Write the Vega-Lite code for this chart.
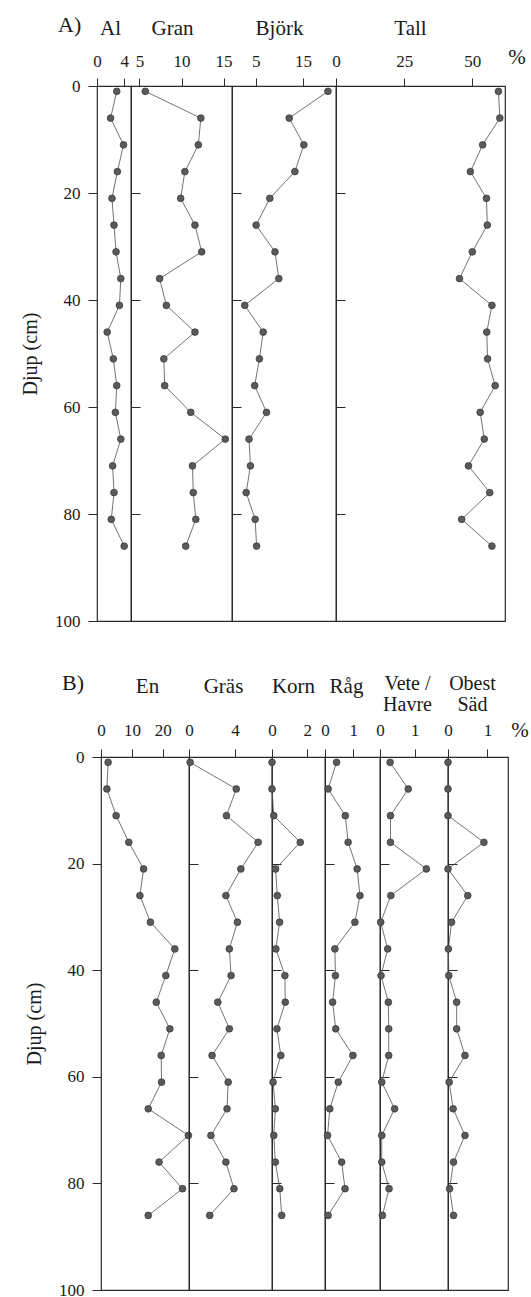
{
  "$schema": "https://vega.github.io/schema/vega-lite/v6.json",
  "padding": {"left": 19, "top": 13, "right": 5, "bottom": 5},
  "background": "white",
  "config": {
    "font": "Liberation Serif",
    "view": {"stroke": "#2a2a2a", "strokeWidth": 1.2},
    "axis": {"labelFont": "Liberation Serif", "titleFont": "Liberation Serif", "labelFontSize": 17, "titleFontSize": 21, "titleFontWeight": "normal", "labelColor": "#1a1a1a", "titleColor": "#1a1a1a", "tickColor": "#2a2a2a", "tickWidth": 1, "grid": false, "domain": false, "labelFlush": false, "labelOverlap": false, "labelBound": false},
    "title": {"font": "Liberation Serif", "fontSize": 22, "fontWeight": "normal", "color": "#1a1a1a"},
    "line": {"color": "#505050", "strokeWidth": 0.8},
    "circle": {"size": 46, "color": "#5a5a5a", "opacity": 1, "stroke": "#333333", "strokeWidth": 0.7}
  },
  "datasets": {
    "A": [
      {"taxon": "Al", "depth": 1, "value": 2.9}, {"taxon": "Al", "depth": 6, "value": 2.0}, {"taxon": "Al", "depth": 11, "value": 3.9}, {"taxon": "Al", "depth": 16, "value": 3.0}, {"taxon": "Al", "depth": 21, "value": 2.2}, {"taxon": "Al", "depth": 26, "value": 2.5}, {"taxon": "Al", "depth": 31, "value": 2.8}, {"taxon": "Al", "depth": 36, "value": 3.5}, {"taxon": "Al", "depth": 41, "value": 3.3}, {"taxon": "Al", "depth": 46, "value": 1.5}, {"taxon": "Al", "depth": 51, "value": 2.4}, {"taxon": "Al", "depth": 56, "value": 2.9}, {"taxon": "Al", "depth": 61, "value": 2.7}, {"taxon": "Al", "depth": 66, "value": 3.5}, {"taxon": "Al", "depth": 71, "value": 2.3}, {"taxon": "Al", "depth": 76, "value": 2.5}, {"taxon": "Al", "depth": 81, "value": 2.1}, {"taxon": "Al", "depth": 86, "value": 4.0},
      {"taxon": "Gran", "depth": 1, "value": 5.7}, {"taxon": "Gran", "depth": 6, "value": 12.3}, {"taxon": "Gran", "depth": 11, "value": 12.0}, {"taxon": "Gran", "depth": 16, "value": 10.4}, {"taxon": "Gran", "depth": 21, "value": 9.9}, {"taxon": "Gran", "depth": 26, "value": 11.6}, {"taxon": "Gran", "depth": 31, "value": 12.4}, {"taxon": "Gran", "depth": 36, "value": 7.4}, {"taxon": "Gran", "depth": 41, "value": 8.2}, {"taxon": "Gran", "depth": 46, "value": 11.6}, {"taxon": "Gran", "depth": 51, "value": 7.9}, {"taxon": "Gran", "depth": 56, "value": 8.0}, {"taxon": "Gran", "depth": 61, "value": 11.1}, {"taxon": "Gran", "depth": 66, "value": 15.2}, {"taxon": "Gran", "depth": 71, "value": 11.3}, {"taxon": "Gran", "depth": 76, "value": 11.4}, {"taxon": "Gran", "depth": 81, "value": 11.7}, {"taxon": "Gran", "depth": 86, "value": 10.5},
      {"taxon": "Björk", "depth": 1, "value": 20.3}, {"taxon": "Björk", "depth": 6, "value": 12.1}, {"taxon": "Björk", "depth": 11, "value": 15.2}, {"taxon": "Björk", "depth": 16, "value": 13.3}, {"taxon": "Björk", "depth": 21, "value": 8.0}, {"taxon": "Björk", "depth": 26, "value": 5.1}, {"taxon": "Björk", "depth": 31, "value": 9.1}, {"taxon": "Björk", "depth": 36, "value": 9.9}, {"taxon": "Björk", "depth": 41, "value": 2.7}, {"taxon": "Björk", "depth": 46, "value": 6.6}, {"taxon": "Björk", "depth": 51, "value": 5.8}, {"taxon": "Björk", "depth": 56, "value": 4.8}, {"taxon": "Björk", "depth": 61, "value": 7.3}, {"taxon": "Björk", "depth": 66, "value": 3.6}, {"taxon": "Björk", "depth": 71, "value": 3.9}, {"taxon": "Björk", "depth": 76, "value": 3.0}, {"taxon": "Björk", "depth": 81, "value": 4.9}, {"taxon": "Björk", "depth": 86, "value": 5.2},
      {"taxon": "Tall", "depth": 1, "value": 59.6}, {"taxon": "Tall", "depth": 6, "value": 60.1}, {"taxon": "Tall", "depth": 11, "value": 53.8}, {"taxon": "Tall", "depth": 16, "value": 49.3}, {"taxon": "Tall", "depth": 21, "value": 55.2}, {"taxon": "Tall", "depth": 26, "value": 55.5}, {"taxon": "Tall", "depth": 31, "value": 50.0}, {"taxon": "Tall", "depth": 36, "value": 45.3}, {"taxon": "Tall", "depth": 41, "value": 57.2}, {"taxon": "Tall", "depth": 46, "value": 55.3}, {"taxon": "Tall", "depth": 51, "value": 55.6}, {"taxon": "Tall", "depth": 56, "value": 58.4}, {"taxon": "Tall", "depth": 61, "value": 52.9}, {"taxon": "Tall", "depth": 66, "value": 54.4}, {"taxon": "Tall", "depth": 71, "value": 48.6}, {"taxon": "Tall", "depth": 76, "value": 56.4}, {"taxon": "Tall", "depth": 81, "value": 46.1}, {"taxon": "Tall", "depth": 86, "value": 57.2}
    ],
    "B": [
      {"taxon": "En", "depth": 1, "value": 2.3}, {"taxon": "En", "depth": 6, "value": 1.9}, {"taxon": "En", "depth": 11, "value": 4.9}, {"taxon": "En", "depth": 16, "value": 9.0}, {"taxon": "En", "depth": 21, "value": 13.8}, {"taxon": "En", "depth": 26, "value": 12.6}, {"taxon": "En", "depth": 31, "value": 16.0}, {"taxon": "En", "depth": 36, "value": 23.9}, {"taxon": "En", "depth": 41, "value": 21.0}, {"taxon": "En", "depth": 46, "value": 17.9}, {"taxon": "En", "depth": 51, "value": 22.3}, {"taxon": "En", "depth": 56, "value": 19.5}, {"taxon": "En", "depth": 61, "value": 19.6}, {"taxon": "En", "depth": 66, "value": 15.3}, {"taxon": "En", "depth": 71, "value": 28.3}, {"taxon": "En", "depth": 76, "value": 18.8}, {"taxon": "En", "depth": 81, "value": 26.4}, {"taxon": "En", "depth": 86, "value": 15.3},
      {"taxon": "Gräs", "depth": 1, "value": 0.1}, {"taxon": "Gräs", "depth": 6, "value": 4.1}, {"taxon": "Gräs", "depth": 11, "value": 3.25}, {"taxon": "Gräs", "depth": 16, "value": 6.0}, {"taxon": "Gräs", "depth": 21, "value": 4.5}, {"taxon": "Gräs", "depth": 26, "value": 3.2}, {"taxon": "Gräs", "depth": 31, "value": 4.2}, {"taxon": "Gräs", "depth": 36, "value": 3.5}, {"taxon": "Gräs", "depth": 41, "value": 3.65}, {"taxon": "Gräs", "depth": 46, "value": 2.5}, {"taxon": "Gräs", "depth": 51, "value": 3.5}, {"taxon": "Gräs", "depth": 56, "value": 2.0}, {"taxon": "Gräs", "depth": 61, "value": 3.4}, {"taxon": "Gräs", "depth": 66, "value": 3.3}, {"taxon": "Gräs", "depth": 71, "value": 1.9}, {"taxon": "Gräs", "depth": 76, "value": 3.2}, {"taxon": "Gräs", "depth": 81, "value": 3.9}, {"taxon": "Gräs", "depth": 86, "value": 1.8},
      {"taxon": "Korn", "depth": 1, "value": 0.0}, {"taxon": "Korn", "depth": 6, "value": 0.0}, {"taxon": "Korn", "depth": 11, "value": 0.1}, {"taxon": "Korn", "depth": 16, "value": 1.6}, {"taxon": "Korn", "depth": 21, "value": 0.2}, {"taxon": "Korn", "depth": 26, "value": 0.3}, {"taxon": "Korn", "depth": 31, "value": 0.43}, {"taxon": "Korn", "depth": 36, "value": 0.22}, {"taxon": "Korn", "depth": 41, "value": 0.73}, {"taxon": "Korn", "depth": 46, "value": 0.75}, {"taxon": "Korn", "depth": 51, "value": 0.28}, {"taxon": "Korn", "depth": 56, "value": 0.5}, {"taxon": "Korn", "depth": 61, "value": 0.06}, {"taxon": "Korn", "depth": 66, "value": 0.19}, {"taxon": "Korn", "depth": 71, "value": 0.1}, {"taxon": "Korn", "depth": 76, "value": 0.19}, {"taxon": "Korn", "depth": 81, "value": 0.44}, {"taxon": "Korn", "depth": 86, "value": 0.55},
      {"taxon": "Råg", "depth": 1, "value": 0.41}, {"taxon": "Råg", "depth": 6, "value": 0.11}, {"taxon": "Råg", "depth": 11, "value": 0.72}, {"taxon": "Råg", "depth": 16, "value": 0.82}, {"taxon": "Råg", "depth": 21, "value": 1.14}, {"taxon": "Råg", "depth": 26, "value": 1.24}, {"taxon": "Råg", "depth": 31, "value": 1.06}, {"taxon": "Råg", "depth": 36, "value": 0.35}, {"taxon": "Råg", "depth": 41, "value": 0.37}, {"taxon": "Råg", "depth": 46, "value": 0.27}, {"taxon": "Råg", "depth": 51, "value": 0.38}, {"taxon": "Råg", "depth": 56, "value": 0.99}, {"taxon": "Råg", "depth": 61, "value": 0.47}, {"taxon": "Råg", "depth": 66, "value": 0.17}, {"taxon": "Råg", "depth": 71, "value": 0.09}, {"taxon": "Råg", "depth": 76, "value": 0.59}, {"taxon": "Råg", "depth": 81, "value": 0.71}, {"taxon": "Råg", "depth": 86, "value": 0.11},
      {"taxon": "Vete", "depth": 1, "value": 0.29}, {"taxon": "Vete", "depth": 6, "value": 0.81}, {"taxon": "Vete", "depth": 11, "value": 0.3}, {"taxon": "Vete", "depth": 16, "value": 0.3}, {"taxon": "Vete", "depth": 21, "value": 1.33}, {"taxon": "Vete", "depth": 26, "value": 0.31}, {"taxon": "Vete", "depth": 31, "value": 0.02}, {"taxon": "Vete", "depth": 36, "value": 0.22}, {"taxon": "Vete", "depth": 41, "value": 0.03}, {"taxon": "Vete", "depth": 46, "value": 0.24}, {"taxon": "Vete", "depth": 51, "value": 0.25}, {"taxon": "Vete", "depth": 56, "value": 0.25}, {"taxon": "Vete", "depth": 61, "value": 0.05}, {"taxon": "Vete", "depth": 66, "value": 0.42}, {"taxon": "Vete", "depth": 71, "value": 0.05}, {"taxon": "Vete", "depth": 76, "value": 0.05}, {"taxon": "Vete", "depth": 81, "value": 0.26}, {"taxon": "Vete", "depth": 86, "value": 0.07},
      {"taxon": "Obest", "depth": 1, "value": 0.0}, {"taxon": "Obest", "depth": 6, "value": 0.0}, {"taxon": "Obest", "depth": 11, "value": 0.0}, {"taxon": "Obest", "depth": 16, "value": 0.91}, {"taxon": "Obest", "depth": 21, "value": 0.0}, {"taxon": "Obest", "depth": 26, "value": 0.5}, {"taxon": "Obest", "depth": 31, "value": 0.09}, {"taxon": "Obest", "depth": 36, "value": 0.01}, {"taxon": "Obest", "depth": 41, "value": 0.02}, {"taxon": "Obest", "depth": 46, "value": 0.22}, {"taxon": "Obest", "depth": 51, "value": 0.22}, {"taxon": "Obest", "depth": 56, "value": 0.43}, {"taxon": "Obest", "depth": 61, "value": 0.03}, {"taxon": "Obest", "depth": 66, "value": 0.13}, {"taxon": "Obest", "depth": 71, "value": 0.43}, {"taxon": "Obest", "depth": 76, "value": 0.14}, {"taxon": "Obest", "depth": 81, "value": 0.04}, {"taxon": "Obest", "depth": 86, "value": 0.14}
    ]
  },
  "spacing": 41,
  "vconcat": [
    {
      "bounds": "flush",
      "spacing": 0,
      "resolve": {"scale": {"x": "independent", "y": "independent"}},
      "hconcat": [
        {
          "width": 34, "height": 535,
          "title": {"text": "A)", "anchor": "start", "frame": "group", "align": "left", "dx": -39, "dy": 24},
          "data": {"name": "A"},
          "transform": [{"filter": "datum.taxon === 'Al'"}],
          "encoding": {
            "x": {"field": "value", "type": "quantitative", "scale": {"domain": [0, 5], "nice": false, "zero": false}, "axis": {"orient": "top", "values": [0, 4], "format": "d", "tickSize": 8, "labelPadding": 8, "title": "Al", "titleX": 13, "titleY": -52, "titleBaseline": "alphabetic", "titleAlign": "center"}},
            "y": {"field": "depth", "type": "quantitative", "scale": {"domain": [0, 100], "nice": false, "reverse": true}, "axis": {"values": [0, 20, 40, 60, 80, 100], "format": "d", "tickSize": 9, "labelPadding": 8, "title": "Djup (cm)", "titleFontSize": 20, "titlePadding": 14}}
          },
          "layer": [
            {"mark": "line", "encoding": {"order": {"field": "depth"}}},
            {"mark": "circle"}
          ]
        },
        {
          "width": 101, "height": 535,
          "data": {"name": "A"},
          "transform": [{"filter": "datum.taxon === 'Gran'"}],
          "encoding": {
            "x": {"field": "value", "type": "quantitative", "scale": {"domain": [4, 16], "nice": false, "zero": false}, "axis": {"orient": "top", "values": [5, 10, 15], "format": "d", "tickSize": 8, "labelPadding": 8, "title": "Gran", "titleX": 41, "titleY": -52, "titleBaseline": "alphabetic", "titleAlign": "center"}},
            "y": {"field": "depth", "type": "quantitative", "scale": {"domain": [0, 100], "nice": false, "reverse": true}, "axis": {"values": [20, 40, 60, 80], "labels": false, "tickSize": -9, "title": null}}
          },
          "layer": [
            {"mark": "line", "encoding": {"order": {"field": "depth"}}},
            {"mark": "circle"}
          ]
        },
        {
          "width": 104, "height": 535,
          "data": {"name": "A"},
          "transform": [{"filter": "datum.taxon === 'Björk'"}],
          "encoding": {
            "x": {"field": "value", "type": "quantitative", "scale": {"domain": [0, 22], "nice": false, "zero": false}, "axis": {"orient": "top", "values": [5, 15], "format": "d", "tickSize": 8, "labelPadding": 8, "title": "Björk", "titleX": 47, "titleY": -52, "titleBaseline": "alphabetic", "titleAlign": "center"}},
            "y": {"field": "depth", "type": "quantitative", "scale": {"domain": [0, 100], "nice": false, "reverse": true}, "axis": {"values": [20, 40, 60, 80], "labels": false, "tickSize": -9, "title": null}}
          },
          "layer": [
            {"mark": "line", "encoding": {"order": {"field": "depth"}}},
            {"mark": "circle"}
          ]
        },
        {
          "width": 169, "height": 535,
          "title": {"text": "%", "anchor": "end", "frame": "group", "align": "center", "dx": 12, "dy": 55, "fontSize": 21},
          "data": {"name": "A"},
          "transform": [{"filter": "datum.taxon === 'Tall'"}],
          "encoding": {
            "x": {"field": "value", "type": "quantitative", "scale": {"domain": [0, 62], "nice": false, "zero": false}, "axis": {"orient": "top", "values": [0, 25, 50], "format": "d", "tickSize": 8, "labelPadding": 8, "title": "Tall", "titleX": 74, "titleY": -52, "titleBaseline": "alphabetic", "titleAlign": "center"}},
            "y": {"field": "depth", "type": "quantitative", "scale": {"domain": [0, 100], "nice": false, "reverse": true}, "axis": {"values": [20, 40, 60, 80], "labels": false, "tickSize": -9, "title": null}}
          },
          "layer": [
            {"mark": "line", "encoding": {"order": {"field": "depth"}}},
            {"mark": "circle"}
          ]
        }
      ]
    },
    {
      "bounds": "flush",
      "spacing": 0,
      "resolve": {"scale": {"x": "independent", "y": "independent"}},
      "hconcat": [
        {
          "width": 4, "height": 533,
          "view": {"stroke": null},
          "data": {"values": [{}]},
          "mark": {"type": "point", "opacity": 0},
          "encoding": {}
        },
        {
          "width": 88, "height": 533,
          "title": {"text": "B)", "anchor": "start", "frame": "group", "align": "left", "dx": -39, "dy": 24},
          "data": {"name": "B"},
          "transform": [{"filter": "datum.taxon === 'En'"}],
          "encoding": {
            "x": {"field": "value", "type": "quantitative", "scale": {"domain": [0, 28.5], "nice": false, "zero": false}, "axis": {"orient": "top", "values": [0, 10, 20], "format": "d", "tickSize": 8, "labelPadding": 10, "title": "En", "titleX": 46, "titleY": -65, "titleBaseline": "alphabetic", "titleAlign": "center"}},
            "y": {"field": "depth", "type": "quantitative", "scale": {"domain": [0, 100], "nice": false, "reverse": true}, "axis": {"values": [0, 20, 40, 60, 80, 100], "format": "d", "tickSize": 9, "labelPadding": 8, "title": "Djup (cm)", "titleFontSize": 20, "titlePadding": 14}}
          },
          "layer": [
            {"mark": "line", "encoding": {"order": {"field": "depth"}}},
            {"mark": "circle"}
          ]
        },
        {
          "width": 83, "height": 533,
          "data": {"name": "B"},
          "transform": [{"filter": "datum.taxon === 'Gräs'"}],
          "encoding": {
            "x": {"field": "value", "type": "quantitative", "scale": {"domain": [0, 7.2], "nice": false, "zero": false}, "axis": {"orient": "top", "values": [0, 4], "format": "d", "tickSize": 8, "labelPadding": 10, "title": "Gräs", "titleX": 34, "titleY": -65, "titleBaseline": "alphabetic", "titleAlign": "center"}},
            "y": {"field": "depth", "type": "quantitative", "scale": {"domain": [0, 100], "nice": false, "reverse": true}, "axis": {"values": [20, 40, 60, 80], "labels": false, "tickSize": -9, "title": null}}
          },
          "layer": [
            {"mark": "line", "encoding": {"order": {"field": "depth"}}},
            {"mark": "circle"}
          ]
        },
        {
          "width": 53, "height": 533,
          "data": {"name": "B"},
          "transform": [{"filter": "datum.taxon === 'Korn'"}],
          "encoding": {
            "x": {"field": "value", "type": "quantitative", "scale": {"domain": [0, 3], "nice": false, "zero": false}, "axis": {"orient": "top", "values": [0, 2], "format": "d", "tickSize": 8, "labelPadding": 10, "title": "Korn", "titleX": 21, "titleY": -65, "titleBaseline": "alphabetic", "titleAlign": "center"}},
            "y": {"field": "depth", "type": "quantitative", "scale": {"domain": [0, 100], "nice": false, "reverse": true}, "axis": {"values": [20, 40, 60, 80], "labels": false, "tickSize": -9, "title": null}}
          },
          "layer": [
            {"mark": "line", "encoding": {"order": {"field": "depth"}}},
            {"mark": "circle"}
          ]
        },
        {
          "width": 55, "height": 533,
          "data": {"name": "B"},
          "transform": [{"filter": "datum.taxon === 'Råg'"}],
          "encoding": {
            "x": {"field": "value", "type": "quantitative", "scale": {"domain": [0, 1.95], "nice": false, "zero": false}, "axis": {"orient": "top", "values": [0, 1], "format": "d", "tickSize": 8, "labelPadding": 10, "title": "Råg", "titleX": 21, "titleY": -65, "titleBaseline": "alphabetic", "titleAlign": "center"}},
            "y": {"field": "depth", "type": "quantitative", "scale": {"domain": [0, 100], "nice": false, "reverse": true}, "axis": {"values": [20, 40, 60, 80], "labels": false, "tickSize": -9, "title": null}}
          },
          "layer": [
            {"mark": "line", "encoding": {"order": {"field": "depth"}}},
            {"mark": "circle"}
          ]
        },
        {
          "width": 68, "height": 533,
          "data": {"name": "B"},
          "transform": [{"filter": "datum.taxon === 'Vete'"}],
          "encoding": {
            "x": {"field": "value", "type": "quantitative", "scale": {"domain": [0, 1.95], "nice": false, "zero": false}, "axis": {"orient": "top", "values": [0, 1], "format": "d", "tickSize": 8, "labelPadding": 10, "title": ["Vete /", "Havre"], "titleFontSize": 20, "titleLineHeight": 21, "titleX": 27, "titleY": -68, "titleBaseline": "alphabetic", "titleAlign": "center"}},
            "y": {"field": "depth", "type": "quantitative", "scale": {"domain": [0, 100], "nice": false, "reverse": true}, "axis": {"values": [20, 40, 60, 80], "labels": false, "tickSize": -9, "title": null}}
          },
          "layer": [
            {"mark": "line", "encoding": {"order": {"field": "depth"}}},
            {"mark": "circle"}
          ]
        },
        {
          "width": 60, "height": 533,
          "title": {"text": "%", "anchor": "end", "frame": "group", "align": "center", "dx": 12, "dy": 72, "fontSize": 21},
          "data": {"name": "B"},
          "transform": [{"filter": "datum.taxon === 'Obest'"}],
          "encoding": {
            "x": {"field": "value", "type": "quantitative", "scale": {"domain": [0, 1.52], "nice": false, "zero": false}, "axis": {"orient": "top", "values": [0, 1], "format": "d", "tickSize": 8, "labelPadding": 10, "title": ["Obest", "Säd"], "titleFontSize": 20, "titleLineHeight": 21, "titleX": 24, "titleY": -68, "titleBaseline": "alphabetic", "titleAlign": "center"}},
            "y": {"field": "depth", "type": "quantitative", "scale": {"domain": [0, 100], "nice": false, "reverse": true}, "axis": {"values": [20, 40, 60, 80], "labels": false, "tickSize": -9, "title": null}}
          },
          "layer": [
            {"mark": "line", "encoding": {"order": {"field": "depth"}}},
            {"mark": "circle"}
          ]
        }
      ]
    }
  ]
}
